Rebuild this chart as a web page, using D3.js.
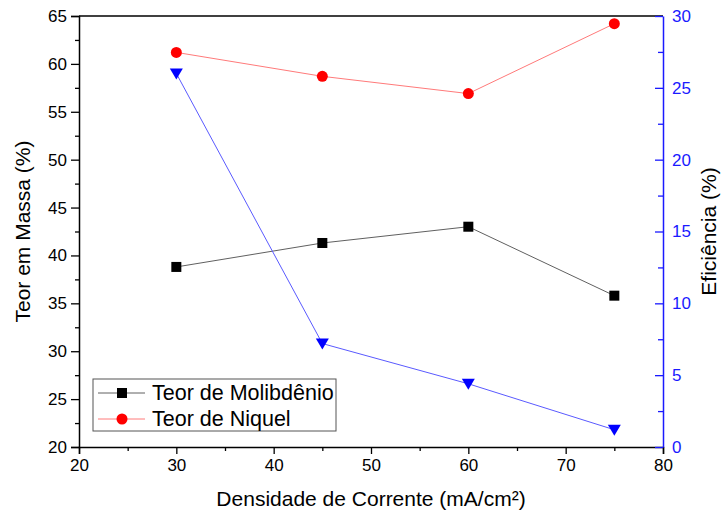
<!DOCTYPE html>
<html>
<head>
<meta charset="utf-8">
<script src="https://cdn.jsdelivr.net/npm/d3@7"></script>
<style>
  body { margin: 0; background: #fff; }
  svg { font-family: "Liberation Sans", Arial, sans-serif; }
</style>
</head>
<body>
<div id="chart"></div>
<script>
const densidade = [30, 45, 60, 75];
const teorMo = [38.8, 41.3, 43.0, 35.8];
const teorNi = [61.2, 58.7, 56.9, 64.2];
const eficiencia = [26.0, 7.2, 4.4, 1.2];
const xTicks = [20, 30, 40, 50, 60, 70, 80];
const yTicks = [20, 25, 30, 35, 40, 45, 50, 55, 60, 65];
const y2Ticks = [0, 5, 10, 15, 20, 25, 30];

const W = 721, H = 514;
const margin = {top: 16, right: 58, bottom: 67, left: 79};
const width = W - margin.left - margin.right;
const height = H - margin.top - margin.bottom;

const svg = d3.select('#chart').append('svg')
    .attr('width', W).attr('height', H);
const g = svg.append('g')
    .attr('transform', `translate(${margin.left},${margin.top})`);

const x = d3.scaleLinear().domain([20, 80]).range([0, width]);
const y = d3.scaleLinear().domain([20, 65]).range([height, 0]);
const y2 = d3.scaleLinear().domain([0, 30]).range([height, 0]);

const minor = (ticks) => d3.range(ticks.length - 1).map(i => (ticks[i] + ticks[i + 1]) / 2);

// top border
g.append('line').attr('x1', 0).attr('x2', width).attr('y1', 0).attr('y2', 0)
  .attr('stroke', '#000').attr('stroke-width', 1.5);

// bottom axis
const xAx = g.append('g').attr('transform', `translate(0,${height})`);
xAx.call(d3.axisBottom(x).tickValues(xTicks).tickSize(7).tickPadding(5).tickFormat(d3.format('d')));
xAx.append('g').call(d3.axisBottom(x).tickValues(minor(xTicks)).tickSize(4).tickFormat(''))
  .select('.domain').remove();

// left axis
const yAx = g.append('g');
yAx.call(d3.axisLeft(y).tickValues(yTicks).tickSize(8).tickPadding(4));
yAx.append('g').call(d3.axisLeft(y).tickValues(minor(yTicks)).tickSize(4).tickFormat(''))
  .select('.domain').remove();

// right axis (blue, ticks inward)
const y2Ax = g.append('g').attr('transform', `translate(${width},0)`);
y2Ax.call(d3.axisRight(y2).tickValues(y2Ticks).tickSize(0).tickPadding(9));
y2Ax.append('g').call(d3.axisLeft(y2).tickValues(y2Ticks).tickSize(8).tickFormat(''))
  .select('.domain').remove();
y2Ax.append('g').call(d3.axisLeft(y2).tickValues(minor(y2Ticks)).tickSize(5).tickFormat(''))
  .select('.domain').remove();
y2Ax.selectAll('line, path').attr('stroke', '#1a1aff');
y2Ax.selectAll('text').attr('fill', '#1a1aff');

[xAx, yAx, y2Ax].forEach(a => {
  a.selectAll('text').attr('font-size', 17).attr('font-family', '"Liberation Sans", Arial, sans-serif');
  a.selectAll('.domain').attr('stroke-width', 1.5);
  a.selectAll('.tick line').attr('stroke-width', 1.3);
});

// series
const line = (yS, vals) => d3.line().x((d, i) => x(densidade[i])).y((d) => yS(d))(vals);

g.append('path').attr('d', line(y, teorMo)).attr('fill', 'none')
  .attr('stroke', '#606060').attr('stroke-width', 1);
g.append('path').attr('d', line(y, teorNi)).attr('fill', 'none')
  .attr('stroke', '#ff7a7a').attr('stroke-width', 1);
g.append('path').attr('d', line(y2, eficiencia)).attr('fill', 'none')
  .attr('stroke', '#5a5aff').attr('stroke-width', 1);

g.append('g').selectAll('rect').data(teorMo).join('rect')
  .attr('x', (d, i) => x(densidade[i]) - 5).attr('y', d => y(d) - 5)
  .attr('width', 10).attr('height', 10).attr('fill', '#000');

g.append('g').selectAll('circle').data(teorNi).join('circle')
  .attr('cx', (d, i) => x(densidade[i])).attr('cy', d => y(d)).attr('r', 5.5)
  .attr('fill', '#ff0000');

const tri = 'M-6.5,-5 L6.5,-5 L0,6 Z';
g.append('g').selectAll('path').data(eficiencia).join('path')
  .attr('transform', (d, i) => `translate(${x(densidade[i])},${y2(d)})`)
  .attr('d', tri).attr('fill', '#0000ff');

// axis titles
svg.append('text').attr('x', margin.left + width / 2).attr('y', 506)
  .attr('text-anchor', 'middle').attr('font-size', 21)
  .text('Densidade de Corrente (mA/cm²)');
svg.append('text').attr('transform', `translate(30,${margin.top + height / 2}) rotate(-90)`)
  .attr('text-anchor', 'middle').attr('font-size', 21)
  .text('Teor em Massa (%)');
svg.append('text').attr('transform', `translate(716,${margin.top + height / 2}) rotate(-90)`)
  .attr('text-anchor', 'middle').attr('font-size', 21)
  .text('Eficiência (%)');

// legend
const legendItems = ['Teor de Molibdênio', 'Teor de Niquel'];
const lg = svg.append('g').attr('transform', 'translate(93,379)');
lg.append('rect').attr('width', 243).attr('height', 52)
  .attr('fill', '#fff').attr('stroke', '#555').attr('stroke-width', 1);
const rows = lg.selectAll('g').data(legendItems).join('g')
  .attr('transform', (d, i) => `translate(0,${14 + i * 26})`);
rows.append('line').attr('x1', 5).attr('x2', 52)
  .attr('stroke', (d, i) => i === 0 ? '#606060' : '#ff7a7a');
rows.each(function(d, i) {
  const r = d3.select(this);
  if (i === 0) r.append('rect').attr('x', 117 - 93).attr('y', -5).attr('width', 10).attr('height', 10).attr('fill', '#000');
  else r.append('circle').attr('cx', 122 - 93).attr('cy', 0).attr('r', 5.5).attr('fill', '#ff0000');
});
rows.append('text').attr('x', 59).attr('y', 7).attr('font-size', 21.5).text(d => d);
</script>
</body>
</html>
